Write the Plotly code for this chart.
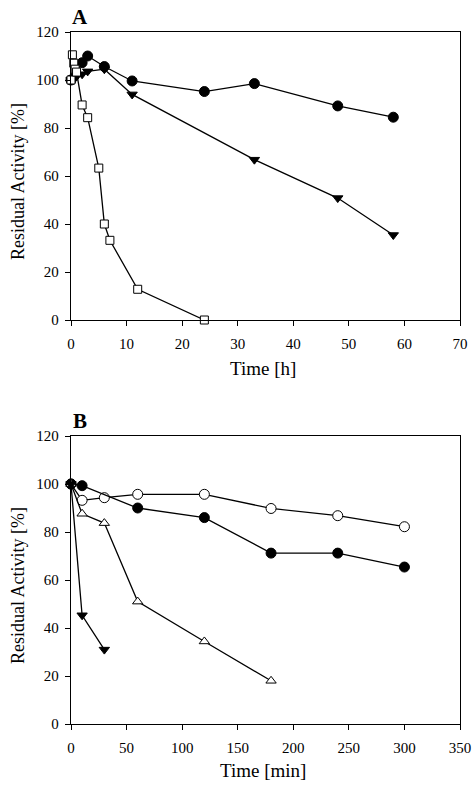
import plotly.graph_objects as go

W, H = 475, 786

# Panel A data (time in h)
a_sq_x = [0, 0.25, 0.5, 0.75, 1, 2, 3, 5, 6, 7, 12, 24]
a_sq_y = [100, 110.5, 107, 104.5, 103.3, 89.6, 84.3, 63.3, 40, 33.2, 12.8, 0]
a_ci_x = [0, 2, 3, 6, 11, 24, 33, 48, 58]
a_ci_y = [100, 107.2, 110, 105.6, 99.6, 95.2, 98.5, 89.2, 84.5]
a_tr_x = [0, 1, 2, 3, 6, 11, 33, 48, 58]
a_tr_y = [100, 101.5, 102.4, 103.6, 104.5, 94, 66.8, 50.8, 35.4]

# Panel B data (time in min)
b_oc_x = [0, 10, 30, 60, 120, 180, 240, 300]
b_oc_y = [100, 93.2, 94.3, 95.7, 95.7, 89.8, 86.8, 82.2]
b_fc_x = [0, 10, 60, 120, 180, 240, 300]
b_fc_y = [100, 99.3, 90, 86, 71.2, 71.2, 65.4]
b_ot_x = [0, 10, 30, 60, 120, 180]
b_ot_y = [100, 87.6, 83.7, 51, 34.4, 18]
b_ft_x = [0, 10, 30]
b_ft_y = [100, 45.3, 31]

a_xticks = [0, 10, 20, 30, 40, 50, 60, 70]
b_xticks = [0, 50, 100, 150, 200, 250, 300, 350]
yticks = [0, 20, 40, 60, 80, 100, 120]

FONT = "Liberation Serif"
LINE = dict(color="black", width=1.3)


def mk(x, y, symbol, fill, size, xa, ya):
    return go.Scatter(
        x=x, y=y, mode="lines+markers", xaxis=xa, yaxis=ya,
        line=LINE, cliponaxis=False, showlegend=False,
        marker=dict(symbol=symbol, size=size, color=fill,
                    line=dict(color="black", width=1)),
    )


fig = go.Figure()
fig.add_trace(mk(a_ci_x, a_ci_y, "circle", "black", 10, "x", "y"))
fig.add_trace(mk(a_tr_x, a_tr_y, "triangle-down", "black", 9, "x", "y"))
fig.add_trace(mk(a_sq_x, a_sq_y, "square", "white", 8, "x", "y"))

fig.add_trace(mk(b_oc_x, b_oc_y, "circle", "white", 10, "x2", "y2"))
fig.add_trace(mk(b_fc_x, b_fc_y, "circle", "black", 10, "x2", "y2"))
fig.add_trace(mk(b_ot_x, b_ot_y, "triangle-up", "white", 9, "x2", "y2"))
fig.add_trace(mk(b_ft_x, b_ft_y, "triangle-down", "black", 9, "x2", "y2"))

x0, x1 = 71 / W, 460 / W
ayA = [1 - 320 / H, 1 - 32 / H]
ayB = [1 - 724 / H, 1 - 436 / H]

axcommon = dict(showline=True, linecolor="black", linewidth=1.3, mirror=True,
                ticks="outside", ticklen=5, tickwidth=1.2, tickcolor="black",
                showgrid=False, zeroline=False, automargin=False,
                tickfont=dict(family=FONT, size=15, color="black"))
xcommon = dict(ticklabelstandoff=5, **axcommon)
ycommon = dict(ticklabelstandoff=3, **axcommon)

fig.update_layout(
    width=W, height=H, margin=dict(l=0, r=0, t=0, b=0, autoexpand=False),
    paper_bgcolor="white", plot_bgcolor="white",
    font=dict(family=FONT, color="black"),
    xaxis=dict(domain=[x0, x1], anchor="y", range=[0, 70], tickvals=a_xticks, **xcommon),
    yaxis=dict(domain=ayA, anchor="x", range=[0, 120], tickvals=yticks, **ycommon),
    xaxis2=dict(domain=[x0, x1], anchor="y2", range=[0, 350], tickvals=b_xticks, **xcommon),
    yaxis2=dict(domain=ayB, anchor="x2", range=[0, 120], tickvals=yticks, **ycommon),
)


def ann(text, x, y, size, bold=False, angle=0):
    fig.add_annotation(
        text=f"<b>{text}</b>" if bold else text,
        x=x / W, y=1 - y / H, xref="paper", yref="paper",
        showarrow=False, textangle=angle,
        font=dict(family=FONT, size=size, color="black"),
        xanchor="center", yanchor="middle",
    )


ann("A", 80, 17, 21, bold=True)
ann("B", 80, 421, 21, bold=True)
ann("Time [h]", 263, 369, 19)
ann("Time [min]", 263, 770, 19)
ann("Residual Activity [%]", 18, 182, 18, angle=-90)
ann("Residual Activity [%]", 18, 586, 18, angle=-90)

fig.write_html(
    "out.html",
    config={"displayModeBar": False},
    post_script="document.body.style.margin='0';document.body.style.overflow='hidden';",
)
